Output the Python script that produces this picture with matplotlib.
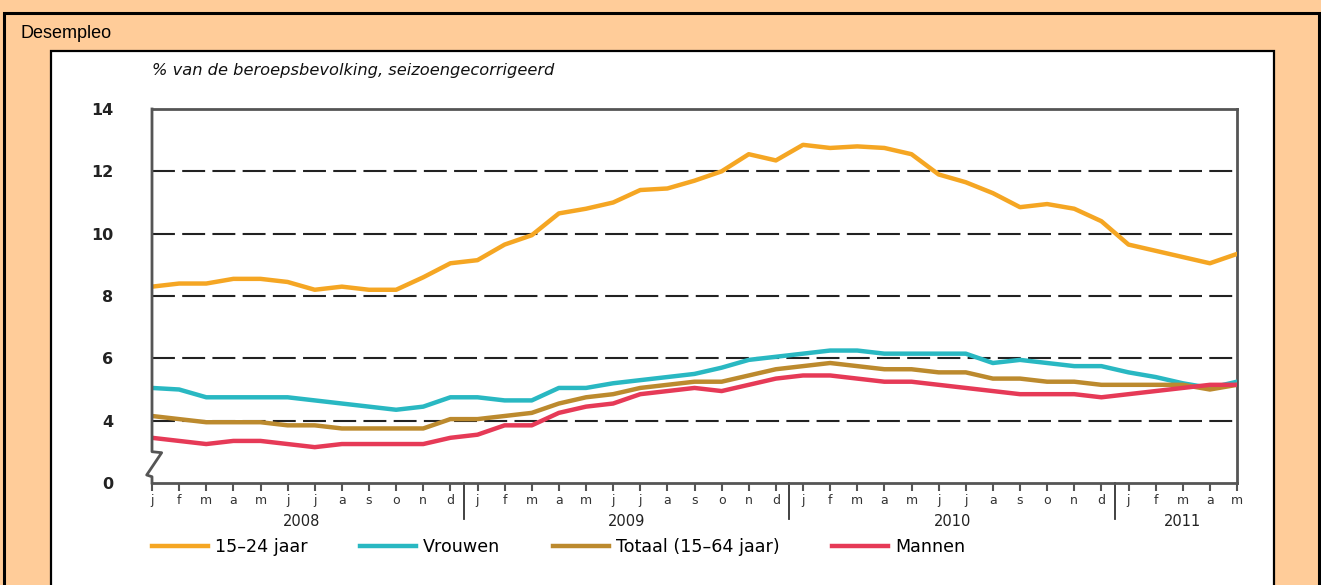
import numpy as np
import matplotlib
matplotlib.use("Agg")
import matplotlib.pyplot as plt
from matplotlib.patches import Rectangle
from matplotlib.lines import Line2D

# maanden jan 2008 .. mei 2011
maanden = ["j", "f", "m", "a", "m", "j", "j", "a", "s", "o", "n", "d"] * 3 + ["j", "f", "m", "a", "m"]
jaren = ["2008", "2009", "2010", "2011"]
jaar_midden = [5.5, 17.5, 29.5, 38.0]
jaar_grens = [11.5, 23.5, 35.5]

jong = [8.3, 8.4, 8.4, 8.55, 8.55, 8.45, 8.2, 8.3, 8.2, 8.2, 8.6, 9.05,
        9.15, 9.65, 9.95, 10.65, 10.8, 11.0, 11.4, 11.45, 11.7, 12.0, 12.55, 12.35,
        12.85, 12.75, 12.8, 12.75, 12.55, 11.9, 11.65, 11.3, 10.85, 10.95, 10.8, 10.4,
        9.65, 9.45, 9.25, 9.05, 9.35]
vrouwen = [5.05, 5.0, 4.75, 4.75, 4.75, 4.75, 4.65, 4.55, 4.45, 4.35, 4.45, 4.75,
           4.75, 4.65, 4.65, 5.05, 5.05, 5.2, 5.3, 5.4, 5.5, 5.7, 5.95, 6.05,
           6.15, 6.25, 6.25, 6.15, 6.15, 6.15, 6.15, 5.85, 5.95, 5.85, 5.75, 5.75,
           5.55, 5.4, 5.2, 5.05, 5.25]
totaal = [4.15, 4.05, 3.95, 3.95, 3.95, 3.85, 3.85, 3.75, 3.75, 3.75, 3.75, 4.05,
          4.05, 4.15, 4.25, 4.55, 4.75, 4.85, 5.05, 5.15, 5.25, 5.25, 5.45, 5.65,
          5.75, 5.85, 5.75, 5.65, 5.65, 5.55, 5.55, 5.35, 5.35, 5.25, 5.25, 5.15,
          5.15, 5.15, 5.15, 5.0, 5.15]
mannen = [3.45, 3.35, 3.25, 3.35, 3.35, 3.25, 3.15, 3.25, 3.25, 3.25, 3.25, 3.45,
          3.55, 3.85, 3.85, 4.25, 4.45, 4.55, 4.85, 4.95, 5.05, 4.95, 5.15, 5.35,
          5.45, 5.45, 5.35, 5.25, 5.25, 5.15, 5.05, 4.95, 4.85, 4.85, 4.85, 4.75,
          4.85, 4.95, 5.05, 5.15, 5.15]

y_ticks = [2, 4, 6, 8, 10, 12, 14]
y_labels = ["0", "4", "6", "8", "10", "12", "14"]

W, H = 1321, 585
def fx(p): return p / W
def fy(p): return 1 - p / H

fig = plt.figure(figsize=(W / 100, H / 100), dpi=100)
fig.patch.set_facecolor("#FFCC99")

# kaders
fig.add_artist(Rectangle((fx(4), -0.05), fx(1319 - 4), (H - 13) / H + 0.05, fill=False,
                         edgecolor="black", lw=2.2, transform=fig.transFigure, zorder=0))
fig.add_artist(Rectangle((fx(51), -0.05), fx(1274 - 51), (H - 51) / H + 0.05, facecolor="white",
                         edgecolor="black", lw=1.6, transform=fig.transFigure, zorder=0))

fig.text(fx(20), fy(33), "Desempleo", fontsize=13, family="Liberation Sans", va="center", ha="left")
fig.text(fx(152), fy(70), "% van de beroepsbevolking, seizoengecorrigeerd", fontsize=11.7,
         style="italic", color="#111111", va="center", ha="left")

ax = fig.add_axes([fx(152), fy(483), fx(1237 - 152), (483 - 109) / H])
ax.set_facecolor("none")
x = np.arange(len(maanden))

for v in y_ticks[1:-1]:
    ax.axhline(v, color="#222222", lw=1.5, ls=(0, (11, 3.5)), zorder=1)

lw = 3.2
ax.plot(x, jong, color="#F5A623", lw=lw, label="15\u201324 jaar", zorder=3)
ax.plot(x, vrouwen, color="#29B8C2", lw=lw, label="Vrouwen", zorder=3)
ax.plot(x, totaal, color="#BC8A2E", lw=lw, label="Totaal (15\u201364 jaar)", zorder=3)
ax.plot(x, mannen, color="#E63A57", lw=lw, label="Mannen", zorder=3)

ax.set_xlim(0, len(maanden) - 1)
ax.set_ylim(2, 14)

spine_c = "#555555"
for s in ["top", "right", "bottom"]:
    ax.spines[s].set_color(spine_c)
    ax.spines[s].set_linewidth(2)
ax.spines["left"].set_visible(False)

# linker as met breuk
bx = [0, 0, 0.0089, -0.0049, 0, 0]
by = [1, 0.0837, 0.081, 0.0214, 0.0168, 0]
ax.add_line(Line2D(bx, by, transform=ax.transAxes, color=spine_c, lw=2, clip_on=False, zorder=4))

ax.set_yticks(y_ticks)
ax.set_yticklabels(y_labels, fontsize=11.5, fontweight="bold", color="#222222")
ax.tick_params(axis="y", length=0, pad=28)

ax.set_xticks(x)
ax.set_xticklabels(maanden, fontsize=9, color="#333333")
ax.tick_params(axis="x", direction="out", length=6, width=1.5, color=spine_c, pad=2)

for g in jaar_grens:
    ax.add_line(Line2D([g, g], [0, -0.095], transform=ax.get_xaxis_transform(), color="#333333",
                       lw=1.3, clip_on=False))
for m, j in zip(jaar_midden, jaren):
    ax.text(m, -0.104, j, transform=ax.get_xaxis_transform(), ha="center", va="center",
            fontsize=10.5, color="#222222")

fig.legend(loc="center left", bbox_to_anchor=(fx(152), fy(547)), ncol=4, frameon=False,
           borderaxespad=0, borderpad=0, handlelength=3.2, handletextpad=0.4, columnspacing=3.0,
           prop={"size": 12.6})

plt.savefig("out.png", dpi=100, facecolor=fig.get_facecolor())
